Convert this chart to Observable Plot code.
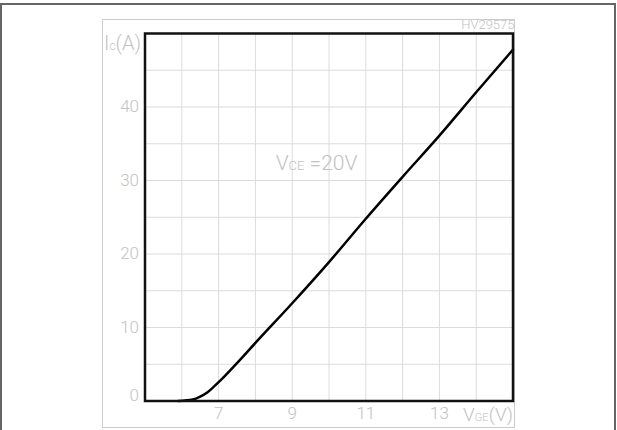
<!DOCTYPE html>
<html>
<head>
<meta charset="utf-8">
<script src="https://cdn.jsdelivr.net/npm/d3@7"></script>
<script src="https://cdn.jsdelivr.net/npm/@observablehq/plot@0.6"></script>
<style>
  html, body { margin: 0; padding: 0; background: #fff; }
  #wrap { position: relative; width: 617px; height: 430px; overflow: hidden; }
  #outer { position: absolute; left: 0; top: 3px; width: 612px; height: 440px; border: 2px solid #666; border-bottom: none; }
  #inner { position: absolute; left: 102px; top: 19px; width: 411px; height: 407px; border: 1px solid #ccc; }
  #chart { position: absolute; left: 0; top: 0; }
</style>
</head>
<body>
<div id="wrap">
  <div id="outer"></div>
  <div id="inner"></div>
  <div id="chart"></div>
</div>
<script>
// Transfer characteristic: VGE (V) vs Ic (A), VCE = 20 V
const vge = [5.9, 6.3, 6.5, 6.7, 6.85, 7.05, 7.6, 8, 9, 10, 11, 12, 13, 14, 15];
const ic  = [0, 0.2, 0.6, 1.2, 1.85, 2.8, 5.7, 7.9, 13.3, 18.9, 24.8, 30.5, 36.1, 42.0, 47.8];

const xTicks = [7, 9, 11, 13];
const yTicks = [10, 20, 30, 40];
const yZero = [0];
const xGrid = d3.range(5, 16, 1);
const yGrid = d3.range(0, 51, 5);

const points = vge.map((v, i) => ({vge: v, ic: ic[i]}));

const txt = "#c2c2c2";
const font = "Roboto";

const chart = Plot.plot({
  width: 617,
  height: 430,
  marginLeft: 144.5,
  marginRight: 104.5,
  marginTop: 33,
  marginBottom: 29.5,
  style: {fontFamily: font, fontSize: "17px", fontWeight: 300, background: "transparent", overflow: "visible"},
  x: {domain: [5, 15], axis: null},
  y: {domain: [0, 50], axis: null},
  marks: [
    Plot.gridX(xGrid, {stroke: "#dcdcdc", strokeOpacity: 1, strokeWidth: 1}),
    Plot.gridY(yGrid, {stroke: "#dcdcdc", strokeOpacity: 1, strokeWidth: 1}),
    Plot.axisY(yTicks, {tickSize: 0, tickPadding: 6, fill: txt, fontSize: 17, label: null}),
    Plot.text(yZero, {x: 5, y: d => d, text: d => String(d), dx: -6, dy: -5, textAnchor: "end", fill: txt, fontSize: 17}),
    Plot.axisX(xTicks, {tickSize: 0, tickPadding: 6, fill: txt, fontSize: 17, label: null}),
    Plot.line(points, {x: "vge", y: "ic", curve: "monotone-x", stroke: "black", strokeWidth: 2.5}),
    Plot.frame({stroke: "#111", strokeWidth: 2.5}),
    Plot.text(["I_c_(A)"], {x: 5, y: 50, dx: -4, dy: 10, textAnchor: "end", lineAnchor: "middle", fill: txt, fontSize: 20}),
    Plot.text(["V_GE_(V)"], {x: 15, y: 0, dx: 0, dy: 14, textAnchor: "end", lineAnchor: "middle", fill: txt, fontSize: 19}),
    Plot.text(["V_CE_ =20V"], {x: 8.55, y: 31.4, textAnchor: "start", lineAnchor: "bottom", fill: txt, fontSize: 21}),
    Plot.text(["HV29575"], {x: 15, y: 50, dx: 1.5, dy: -5, textAnchor: "end", lineAnchor: "bottom", fill: txt, fontSize: 13, letterSpacing: "1.2px"})
  ]
});

// Render segments separated by "_" as big / small (subscript-style) tspans
d3.select(chart).selectAll("text").each(function() {
  const t = this.textContent;
  if (!t.includes("_")) return;
  const sel = d3.select(this);
  const parentSize = parseFloat(sel.attr("font-size") || this.parentNode.getAttribute("font-size") || 17);
  sel.text(null);
  t.split("_").forEach((seg, i) => {
    if (!seg) return;
    const ts = sel.append("tspan").text(seg);
    if (i % 2 === 1) ts.attr("font-size", Math.round(parentSize * 0.6));
  });
});

document.getElementById("chart").appendChild(chart);
</script>
</body>
</html>
